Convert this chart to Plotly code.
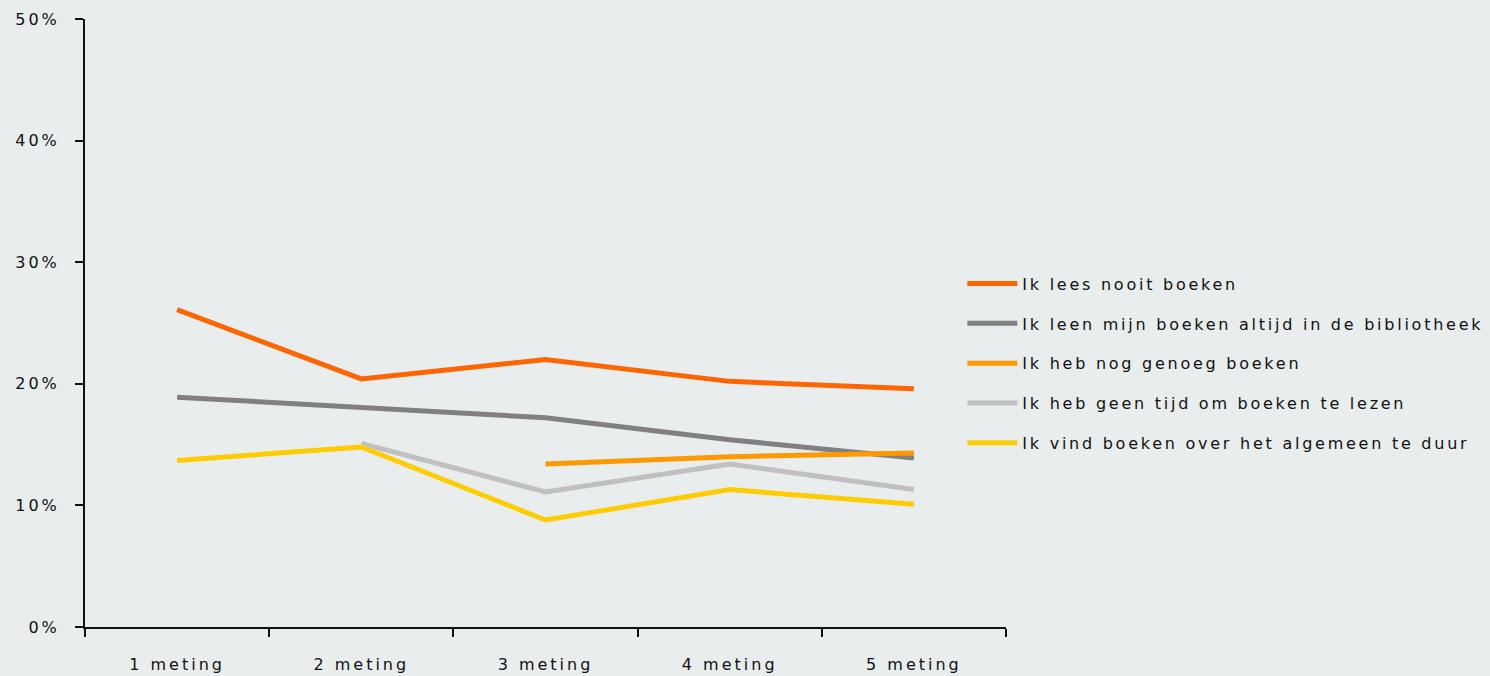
import plotly.graph_objects as go

categories = ["1 meting", "2 meting", "3 meting", "4 meting", "5 meting"]

series_names = [
    "Ik lees nooit boeken",
    "Ik leen mijn boeken altijd in de bibliotheek",
    "Ik heb nog genoeg boeken",
    "Ik heb geen tijd om boeken te lezen",
    "Ik vind boeken over het algemeen te duur",
]
lees_nooit = [0.261, 0.204, 0.220, 0.202, 0.196]
leen_bibliotheek = [0.189, 0.181, 0.172, 0.154, 0.139]
genoeg_boeken = [None, None, 0.134, 0.140, 0.143]
geen_tijd = [None, 0.151, 0.111, 0.134, 0.113]
te_duur = [0.137, 0.148, 0.088, 0.113, 0.101]
series_values = [lees_nooit, leen_bibliotheek, genoeg_boeken, geen_tijd, te_duur]
colors = ["#FF6600", "#808080", "#FF9900", "#C0C0C0", "#FFCC00"]

y_tickvals = [0, 0.1, 0.2, 0.3, 0.4, 0.5]
y_ticktext = ["0%", "10%", "20%", "30%", "40%", "50%"]

SP = "letter-spacing:3px"
SP_LEG = "letter-spacing:2.75px"

fig = go.Figure()
for name, vals, col in zip(series_names, series_values, colors):
    fig.add_trace(go.Scatter(
        x=categories, y=vals, mode="lines",
        name=f'<span style="{SP_LEG}">{name}</span>',
        legendgroup=name,
        line=dict(color=col, width=5),
        connectgaps=False,
        hoverinfo="skip",
    ))

bg = "#E9EDEE"
fig.update_layout(
    width=1490, height=676,
    paper_bgcolor=bg, plot_bgcolor=bg,
    margin=dict(l=85, r=484, t=19, b=49, autoexpand=False),
    font=dict(family="DejaVu Sans", size=16, color="#111111"),
    showlegend=True,
    legend=dict(
        x=0.9526, xanchor="left", y=0.434, yanchor="middle",
        bgcolor="rgba(0,0,0,0)",
        traceorder="grouped", tracegroupgap=16,
        itemwidth=50,
        font=dict(family="DejaVu Sans", size=16, color="#111111"),
    ),
    xaxis=dict(
        type="category",
        automargin=False,
        showline=True, linecolor="#111111", linewidth=2,
        ticks="outside", ticklen=8, tickwidth=1.5, tickcolor="#111111",
        tickson="boundaries",
        showgrid=False, zeroline=False,
        ticklabelstandoff=22,
        tickvals=categories,
        ticktext=[f'<span style="{SP}">{c}</span>' for c in categories],
        range=[-0.5, 4.5],
        fixedrange=True,
    ),
    yaxis=dict(
        range=[0, 0.5],
        automargin=False,
        showline=True, linecolor="#111111", linewidth=2,
        ticks="outside", ticklen=8, tickwidth=1.5, tickcolor="#111111",
        tickvals=y_tickvals,
        ticktext=[f'<span style="{SP}">{t}</span>' for t in y_ticktext],
        showgrid=False, zeroline=False,
        ticklabelstandoff=12,
        fixedrange=True,
    ),
)

fig.write_html(
    "out.html",
    config={"displayModeBar": False},
    post_script="document.body.style.margin='0';document.body.style.overflow='hidden';",
)
